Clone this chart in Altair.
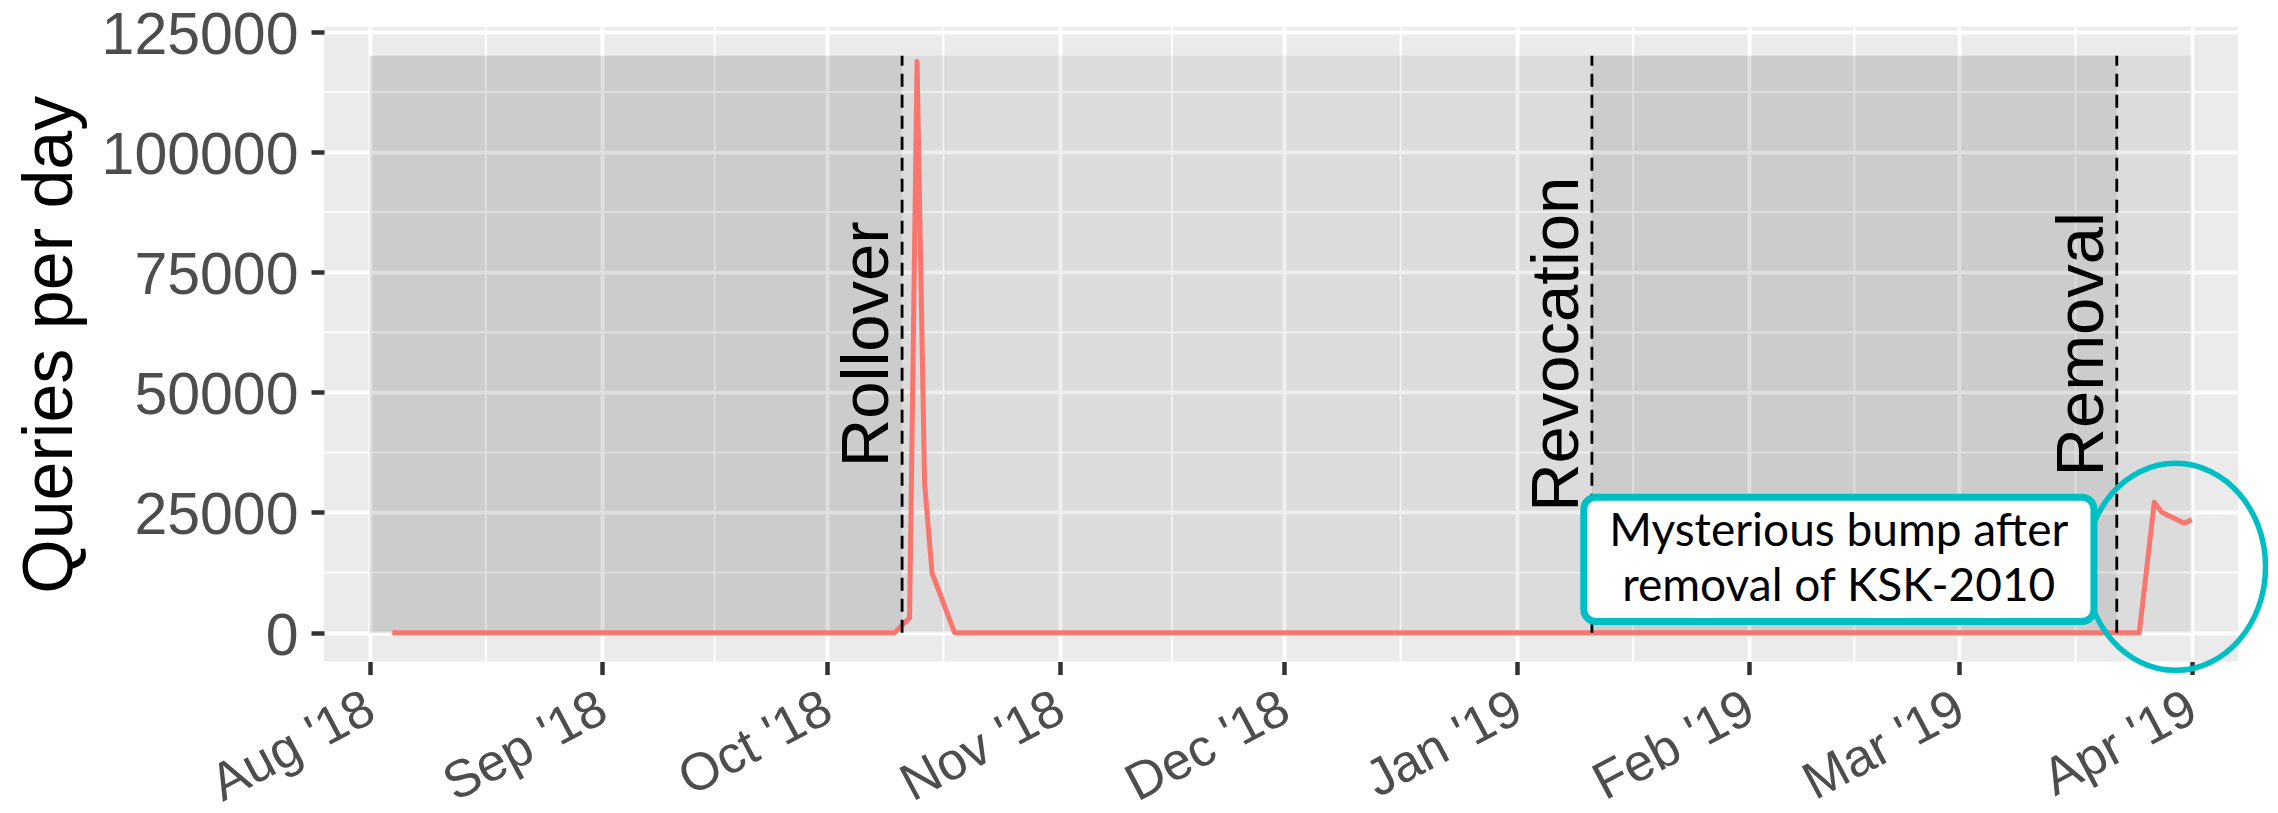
import altair as alt
import pandas as pd

# ---- data ----
line_dates = ["2018-08-04", "2018-10-10", "2018-10-11", "2018-10-12", "2018-10-13",
              "2018-10-14", "2018-10-15", "2018-10-16", "2018-10-17", "2018-10-18",
              "2019-03-25", "2019-03-26", "2019-03-27", "2019-03-28", "2019-03-29",
              "2019-03-30", "2019-03-31", "2019-04-01"]
line_values = [0, 0, 1550, 3100, 118800, 31100, 12400, 8300, 4100, 0,
               0, 13500, 27150, 25060, 24270, 23540, 22770, 23540]

event_dates = ["2018-10-11", "2019-01-11", "2019-03-22"]
event_labels = ["Rollover", "Revocation", "Removal"]
event_label_y = 60000
event_top = 120000

span_start = ["2018-08-01"]
span_end = ["2019-04-01"]
dark_start = ["2018-08-01", "2019-01-11"]
dark_end = ["2018-10-11", "2019-03-22"]

month_ticks = [(2018, 8), (2018, 9), (2018, 10), (2018, 11), (2018, 12),
               (2019, 1), (2019, 2), (2019, 3), (2019, 4)]
minor_x = ["2018-08-16T12:00:00Z", "2018-09-16T00:00:00Z", "2018-10-16T12:00:00Z",
           "2018-11-16T00:00:00Z", "2018-12-16T12:00:00Z", "2019-01-16T12:00:00Z",
           "2019-02-15T00:00:00Z", "2019-03-16T12:00:00Z"]
y_major = [0, 25000, 50000, 75000, 100000, 125000]
y_minor = [12500, 37500, 62500, 87500, 112500]

note_text = "Mysterious bump after\nremoval of KSK-2010"
note_box_start = ["2019-01-09T22:00:00Z"]
note_box_end = ["2019-03-18T23:00:00Z"]
note_box_low = [2335]
note_box_high = [28190]
note_center_date = ["2019-02-12T22:00:00Z"]
note_center_y = [15200]
circle_date = ["2019-03-29T20:00:00Z"]
circle_y = [13700]

# ---- styling ----
RED = "#F8766D"
TEAL = "#00BFC4"
W, H = 1914, 634.5
FONT = "Liberation Sans"

xscale = alt.Scale(type="utc", nice=False, domain=[
    alt.DateTime(year=2018, month=7, date=25, hours=21, minutes=40, utc=True),
    alt.DateTime(year=2019, month=4, date=7, hours=4, utc=True)])
yscale = alt.Scale(domain=[-6000, 126000], nice=False, zero=False)

xaxis = alt.Axis(values=[alt.DateTime(year=y, month=m, date=1, utc=True) for y, m in month_ticks],
                 format="%b '%y", labelAngle=-28, labelAlign="right", labelBaseline="top",
                 labelFontSize=52.5, labelFont=FONT, labelColor="#4D4D4D", labelPadding=8,
                 labelOffset=-11, labelOverlap=False, labelFlush=False, labelBound=False,
                 labelLimit=1000,
                 tickColor="#333333", tickWidth=4.5, tickSize=13, domain=False,
                 grid=True, gridColor="white", gridWidth=4, title=None)
yaxis = alt.Axis(values=y_major, format="d", labelFontSize=59, labelFont=FONT,
                 labelColor="#4D4D4D", labelPadding=13, labelFlush=False, labelOverlap=False,
                 labelLimit=1000, labelOffset=3.5,
                 tickColor="#333333", tickWidth=4.5, tickSize=13, domain=False,
                 grid=True, gridColor="white", gridWidth=4,
                 title="Queries per day", titleFont=FONT, titleFontSize=70,
                 titleFontWeight="normal", titleColor="black", titleX=-253, titleY=H / 2,
                 titleAngle=270, titleBaseline="alphabetic", titleAlign="center",
                 titleLimit=2000)


def X(f="date"):
    return alt.X(f + ":T", scale=xscale, axis=xaxis)


def Y(f="value"):
    return alt.Y(f + ":Q", scale=yscale, axis=yaxis)


line_df = pd.DataFrame({"date": line_dates, "value": line_values})
events_df = pd.DataFrame({"date": event_dates, "label": event_labels,
                          "value": [0] * len(event_dates),
                          "value2": [event_top] * len(event_dates),
                          "ly": [event_label_y] * len(event_dates)})
span_df = pd.DataFrame({"date": span_start, "date2": span_end, "value": [0], "value2": [event_top]})
dark_df = pd.DataFrame({"date": dark_start, "date2": dark_end,
                        "value": [0, 0], "value2": [event_top, event_top]})
minor_x_df = pd.DataFrame({"date": minor_x})
minor_y_df = pd.DataFrame({"value": y_minor})
box_df = pd.DataFrame({"date": note_box_start, "date2": note_box_end,
                       "value": note_box_low, "value2": note_box_high})
note_df = pd.DataFrame({"date": note_center_date, "value": note_center_y, "label": [note_text]})
circle_df = pd.DataFrame({"date": circle_date, "value": circle_y})

minor_v = alt.Chart(minor_x_df).mark_rule(color="white", strokeWidth=2).encode(x=X())
minor_h = alt.Chart(minor_y_df).mark_rule(color="white", strokeWidth=2).encode(y=Y())

span = alt.Chart(span_df).mark_rect(color="black", opacity=0.064).encode(
    x=X(), x2="date2:T", y=Y(), y2="value2:Q")
dark = alt.Chart(dark_df).mark_rect(color="black", opacity=0.07).encode(
    x=X(), x2="date2:T", y=Y(), y2="value2:Q")

line = alt.Chart(line_df).mark_line(color=RED, strokeWidth=5, strokeJoin="round").encode(
    x=X(), y=Y())

vlines = alt.Chart(events_df).mark_rule(color="black", strokeWidth=2.8, strokeDash=[13, 8]).encode(
    x=X(), y=Y(), y2="value2:Q")
vlabels = alt.Chart(events_df).mark_text(angle=270, baseline="bottom", align="center",
                                         fontSize=67, font=FONT, color="black").encode(
    x=X(), y=Y("ly"), text="label:N")

ellipse_path = ("M 0 -1 C 0.4805 -1 0.87 -0.5523 0.87 0 C 0.87 0.5523 0.4805 1 0 1 "
                "C -0.4805 1 -0.87 0.5523 -0.87 0 C -0.87 -0.5523 -0.4805 -1 0 -1 Z")
circle = alt.Chart(circle_df).mark_point(shape=ellipse_path, filled=False, stroke=TEAL,
                                         strokeWidth=5.5, size=207 ** 2, opacity=1).encode(
    x=X(), y=Y())

box = alt.Chart(box_df).mark_rect(fill="white", stroke=TEAL, strokeWidth=7, cornerRadius=12).encode(
    x=X(), x2="date2:T", y=Y(), y2="value2:Q")
note = alt.Chart(note_df).mark_text(font="Lato", fontSize=46, lineHeight=55, lineBreak="\n",
                                    align="center", baseline="middle", dy=-27.5,
                                    color="black").encode(
    x=X(), y=Y(), text="label:N")

chart = alt.layer(minor_v, minor_h, span, dark, line, vlines, vlabels, circle, box, note).properties(
    width=W, height=H,
    padding={"left": 316, "top": 19, "right": 30, "bottom": 152},
    autosize=alt.AutoSizeParams(type="none"),
    background="white",
).configure_view(fill="#EBEBEB", stroke=None)

chart.save("out.html", embed_options={"renderer": "svg", "actions": False})
